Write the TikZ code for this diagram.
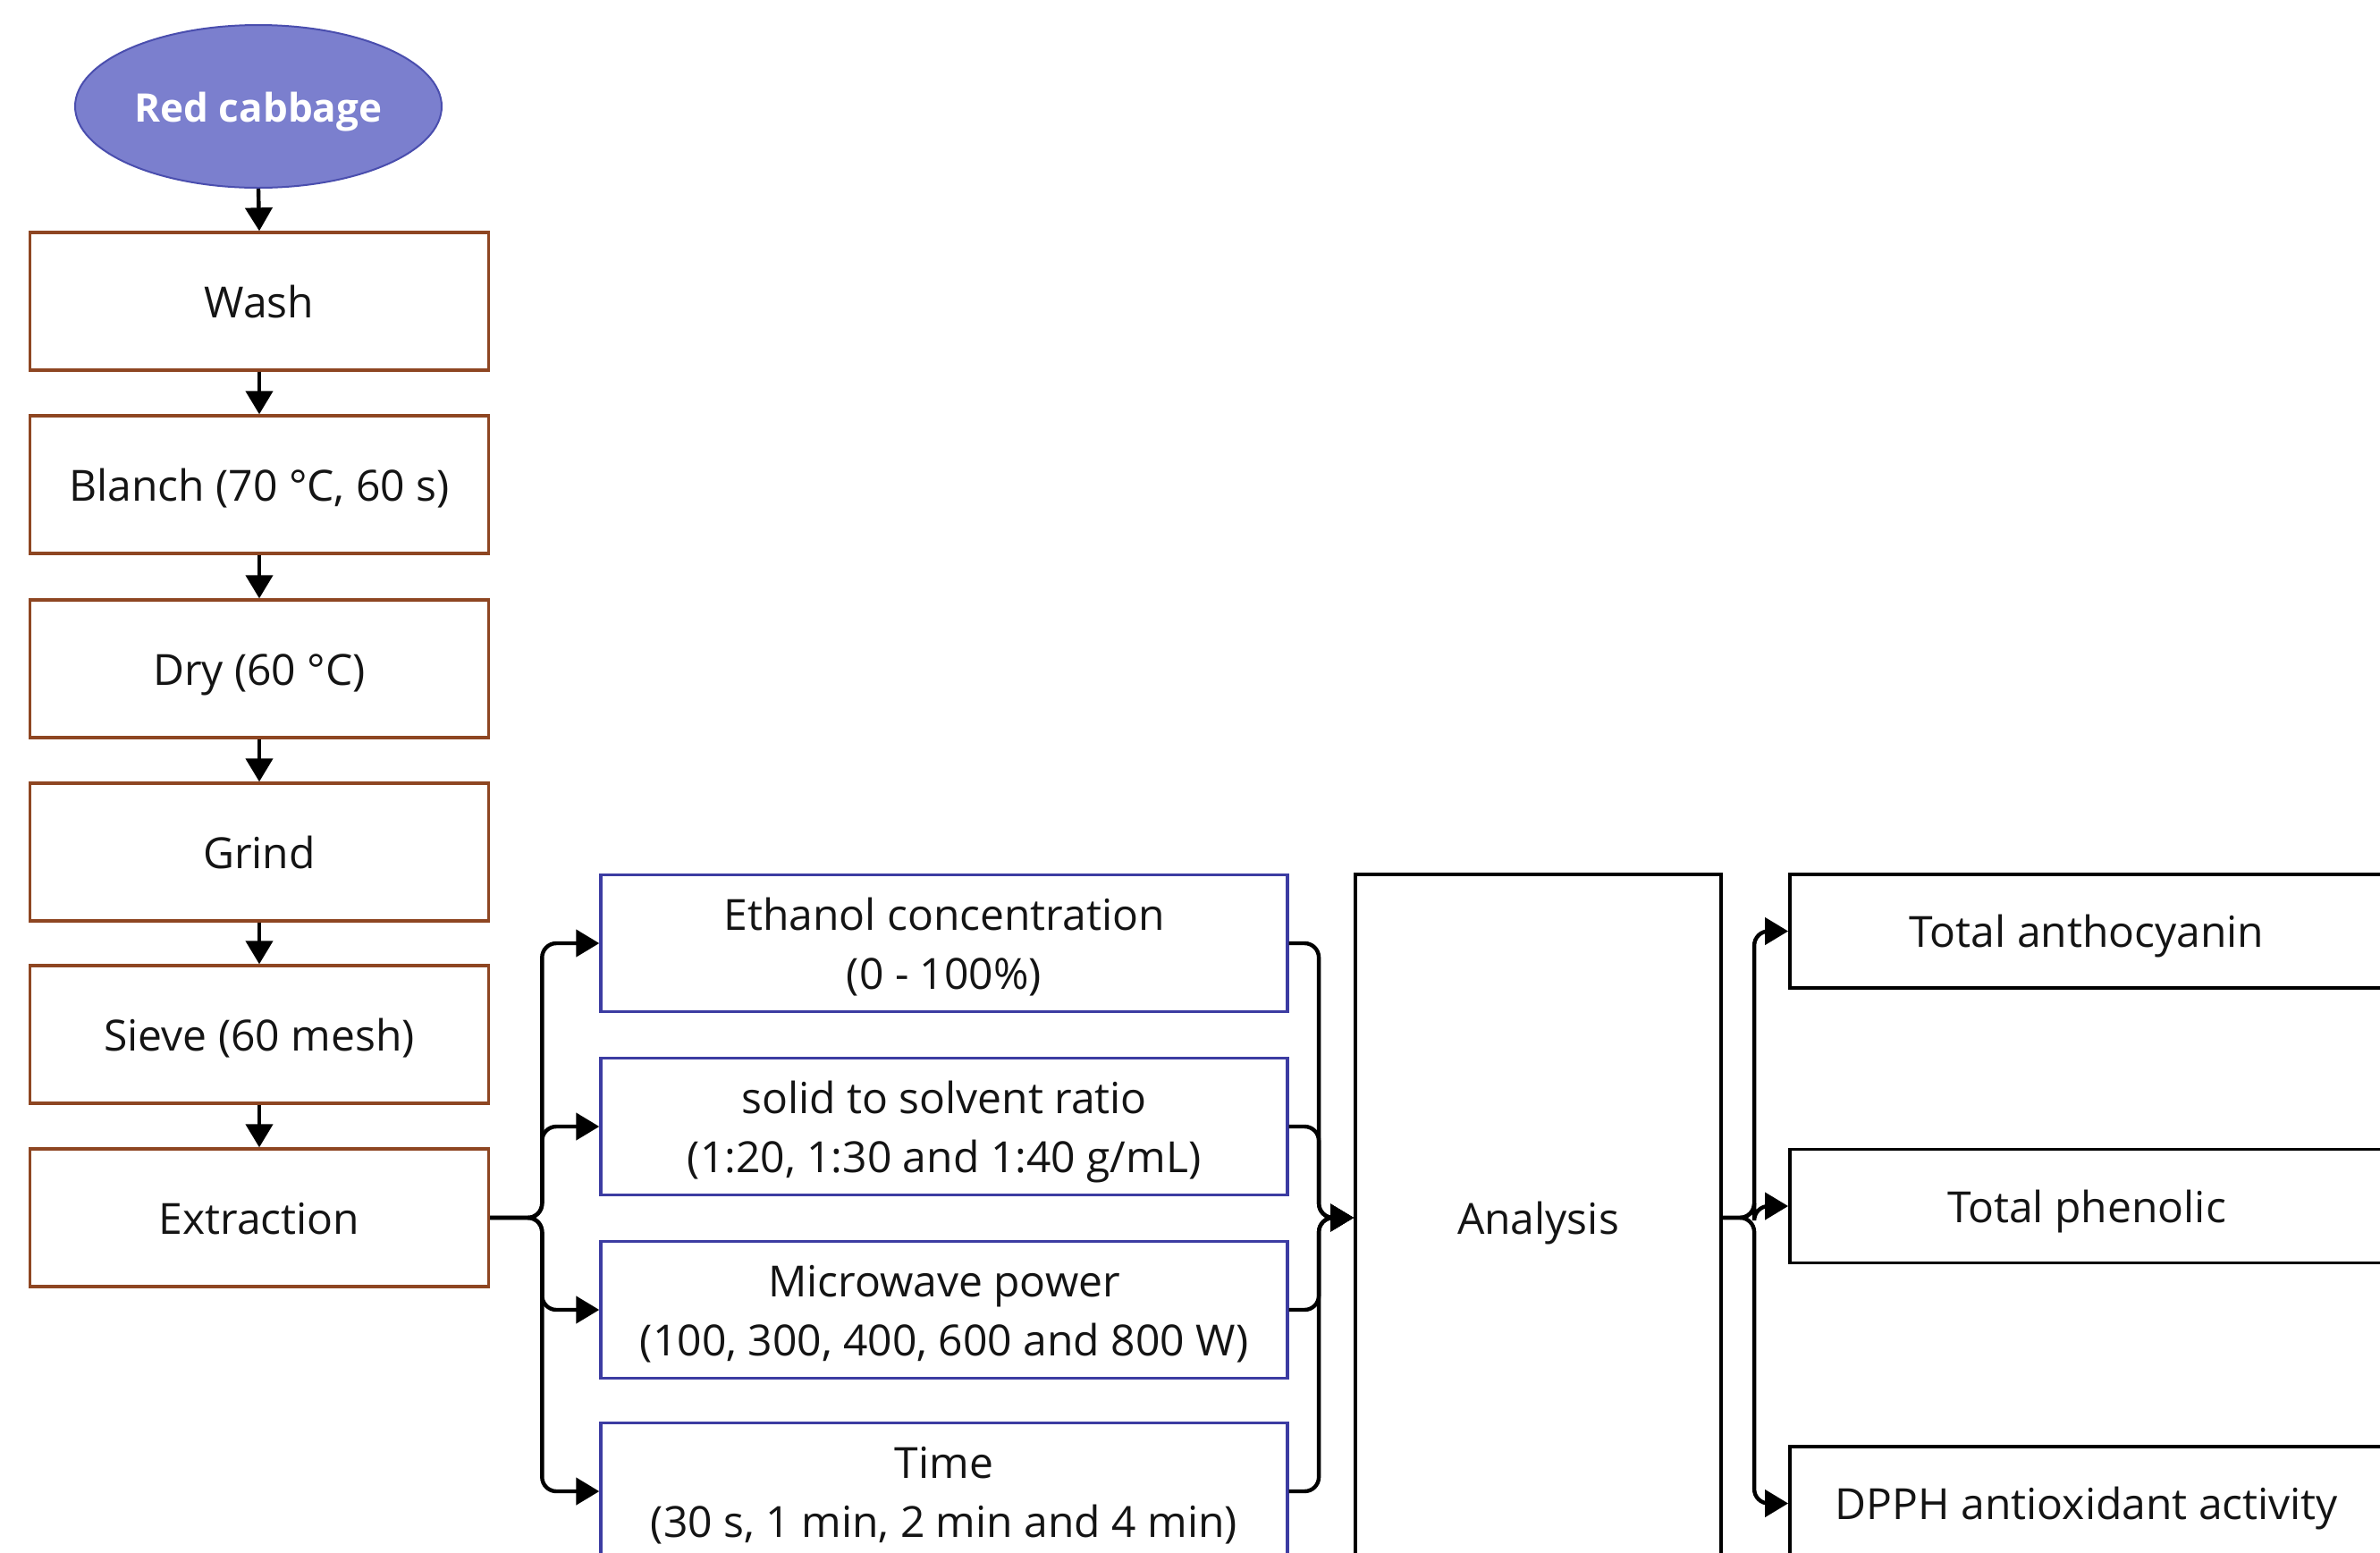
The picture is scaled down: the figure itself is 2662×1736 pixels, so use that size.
\documentclass[tikz,border=0pt]{standalone}
\usepackage{fontspec}
\setmainfont{Open Sans}
\usetikzlibrary{arrows.meta,shapes.geometric,calc}
\definecolor{ellfill}{HTML}{7B7FCE}
\definecolor{elldraw}{HTML}{4A4EAE}
\definecolor{brownb}{HTML}{8E4622}
\definecolor{blueb}{HTML}{3C3CA2}
\definecolor{txt}{HTML}{141414}
\tikzset{
  base/.style={rectangle, line width=1.7pt, align=center, text=txt, font=\fontsize{24}{33}\selectfont, inner sep=0pt, text height=18pt, text depth=0pt},
  twoline/.style={text height=51pt, text depth=-3pt},
  leftbox/.style={base, draw=brownb, minimum width=256.5pt, minimum height=77pt},
  parbox/.style={base, twoline, draw=blueb, minimum width=384pt, minimum height=76.5pt},
  anbox/.style={base, draw=black, line width=1.9pt, minimum width=204.5pt, minimum height=384pt},
  resbox/.style={base, draw=black, line width=1.9pt, minimum width=332pt, minimum height=63.5pt},
  startnode/.style={ellipse, draw=elldraw, fill=ellfill, line width=1pt, minimum width=205pt, minimum height=91pt, text=white, font=\fontsize{22}{26}\selectfont\bfseries, inner sep=0pt, text height=17pt, text depth=0pt},
  arr/.style={line width=2.2pt, draw=black, -{Triangle[length=13pt,width=15pt]}},
  branch/.style={arr, rounded corners=8pt}
}
\begin{document}
\begin{tikzpicture}[x=0.5pt,y=-0.5pt]
\useasboundingbox (0,0) rectangle (2662,1736);
\clip (0,0) rectangle (2662,1736);
\fill[white] (0,0) rectangle (2662,1736);

\node[startnode] (rc) at (289,119) {Red cabbage};
\node[leftbox] (wash) at (290,337) {Wash};
\node[leftbox] (blanch) at (290,542) {Blanch (70 °C, 60 s)};
\node[leftbox] (dry) at (290,748) {Dry (60 °C)};
\node[leftbox] (grind) at (290,953) {Grind};
\node[leftbox] (sieve) at (290,1157) {Sieve (60 mesh)};
\node[leftbox] (ext) at (290,1362) {Extraction};

\node[parbox] (eth) at (1056,1055) {Ethanol concentration\\(0 - 100\%)};
\node[parbox] (sol) at (1056,1260) {solid to solvent ratio\\(1:20, 1:30 and 1:40 g/mL)};
\node[parbox] (mic) at (1056,1465) {Microwave power\\(100, 300, 400, 600 and 800 W)};
\node[parbox] (tim) at (1056,1668) {Time\\(30 s, 1 min, 2 min and 4 min)};

\node[anbox] (an) at (1720.5,1362) {Analysis};

\node[resbox] (ta) at (2334,1041.5) {Total anthocyanin};
\node[resbox] (tp) at (2334,1349) {Total phenolic};
\node[resbox] (dp) at (2334,1681.5) {DPPH antioxidant activity};

\draw[arr] (rc.south) -- (wash.north);
\draw[arr] (wash.south) -- (blanch.north);
\draw[arr] (blanch.south) -- (dry.north);
\draw[arr] (dry.south) -- (grind.north);
\draw[arr] (grind.south) -- (sieve.north);
\draw[arr] (sieve.south) -- (ext.north);

\foreach \b in {eth,sol,mic,tim}{
  \draw[branch] (ext.east) -| ($(\b.west)+(-32pt,0)$) -- (\b.west);
  \draw[branch] (\b.east) -| ($(an.west)+(-19.5pt,0)$) -- (an.west);
}
\foreach \b in {ta,tp,dp}{
  \draw[branch] (an.east) -| ($(\b.west)+(-19pt,0)$) -- (\b.west);
}
\end{tikzpicture}
\end{document}
